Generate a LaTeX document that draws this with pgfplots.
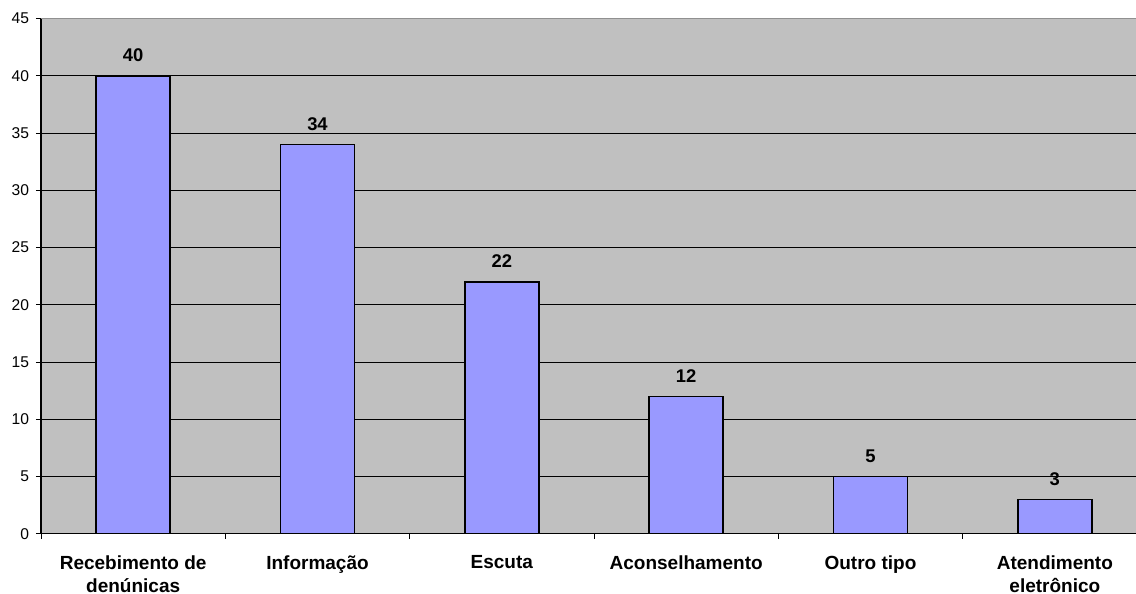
\documentclass[border=0pt]{standalone}
\usepackage{pgfplots}
\pgfplotsset{compat=1.18}
\usepackage{fontspec}
\setmainfont{Liberation Sans}
\definecolor{plotgray}{HTML}{C0C0C0}
\definecolor{framegray}{HTML}{909090}
\definecolor{barblue}{HTML}{9999FF}
\begin{document}
\begin{tikzpicture}
\begin{axis}[
  at={(20.5pt,30.15pt)}, anchor=south west,
  scale only axis,
  width=553pt, height=257.5pt,
  xmin=-0.5, xmax=5.5,
  ymin=0, ymax=45,
  axis x line*=bottom, axis y line*=left,
  axis line style={black, line width=0.6pt},
  axis background/.style={fill=plotgray, draw=framegray, line width=0.6pt},
  tick align=outside,
  major tick length=2.6pt,
  tick style={black, line width=0.5pt},
  % category boundaries carry the tick marks
  xtick={-0.5,0.5,...,5.5},
  xticklabels={},
  % category names sit in the middle of each slot
  extra x ticks={0,...,5},
  extra x tick labels={{Recebimento de\\denúnicas},{Informação},{Escuta},{Aconselhamento},{Outro tipo},{Atendimento\\eletrônico}},
  extra x tick style={major tick length=0pt,
    xticklabel style={align=center, font=\fontsize{9.5}{11.6}\selectfont\bfseries, inner sep=0pt, text depth=0pt, anchor=north, yshift=-10.8pt}},
  ytick={0,5,...,45},
  yticklabel style={font=\fontsize{7.8}{9}\selectfont, inner sep=0pt, anchor=east, xshift=-3.2pt},
  /pgf/number format/assume math mode=true,
  extra y ticks={5,10,...,40},
  extra y tick labels={},
  extra y tick style={grid=major, major tick length=0pt},
  major grid style={black, line width=0.5pt},
  ybar, bar width=37pt,
  nodes near coords,
  every node near coord/.append style={font=\fontsize{9.2}{11}\selectfont\bfseries, inner sep=0pt, anchor=south, yshift=6.7pt},
]
\addplot[fill=barblue, draw=black, line width=0.7pt] coordinates {(0,40) (1,34) (2,22) (3,12) (4,5) (5,3)};
\end{axis}
\pgfresetboundingbox
\useasboundingbox (0,0) rectangle (568pt,297pt);
\end{tikzpicture}
\end{document}
